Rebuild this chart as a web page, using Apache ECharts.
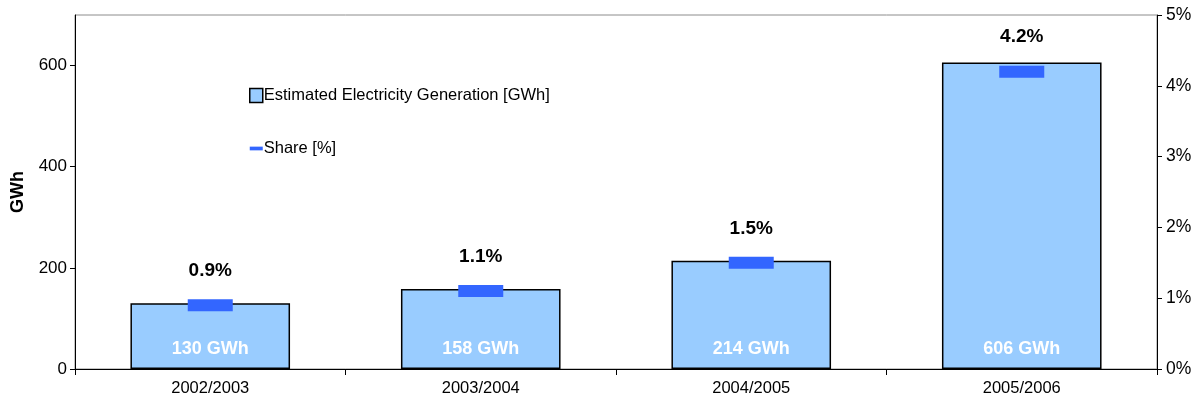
<!DOCTYPE html>
<html>
<head>
<meta charset="utf-8">
<script src="https://cdn.jsdelivr.net/npm/echarts@6/dist/echarts.min.js"></script>
<style>html,body{margin:0;padding:0;background:#fff}#c{width:1198px;height:410px}</style>
</head>
<body>
<div id="c"></div>
<script>
const categories = ['2002/2003', '2003/2004', '2004/2005', '2005/2006'];
const generationGWh = [130, 158, 214, 606];
const sharePct = [0.9, 1.1, 1.5, 4.2];
const leftTicks = [0, 200, 400, 600];
const rightTicks = [0, 1, 2, 3, 4, 5];

const FONT = 'Liberation Sans';
const chart = echarts.init(document.getElementById('c'), null, {renderer: 'canvas'});
chart.setOption({
  animation: false,
  textStyle: {fontFamily: FONT},
  grid: {left: 75, right: 41, top: 15, bottom: 41, show: true, borderColor: '#8c8c8c', borderWidth: 1},
  legend: {
    orient: 'vertical', left: 244, top: 82, itemGap: 36, itemWidth: 13, itemHeight: 14,
    textStyle: {fontFamily: FONT, fontSize: 16.5, color: '#000', padding: [0, 0, 0, -4]},
    data: [
      {name: 'Estimated Electricity Generation [GWh]', icon: 'rect', itemStyle: {color: '#99CCFF', borderColor: '#000', borderWidth: 1.5}},
      {name: 'Share [%]', icon: 'path://M0,0 L14,0 L14,4 L0,4 Z', itemStyle: {color: '#3366FF'}}
    ]
  },
  xAxis: {
    type: 'category', data: categories, boundaryGap: true,
    axisLine: {lineStyle: {color: '#000', width: 1}},
    axisTick: {show: true, alignWithLabel: false, length: 6, lineStyle: {color: '#000'}},
    axisLabel: {fontFamily: FONT, fontSize: 16.5, color: '#000', margin: 11}
  },
  yAxis: [
    {
      type: 'value', min: 0, max: 700, interval: 100,
      name: 'GWh', nameLocation: 'middle', nameGap: 48, nameRotate: 90,
      nameTextStyle: {fontFamily: FONT, fontSize: 18, fontWeight: 'bold', color: '#000'},
      axisLine: {show: true, lineStyle: {color: '#000'}},
      axisTick: {show: true, length: 5, lineStyle: {color: '#000'}, customValues: leftTicks},
      axisLabel: {fontFamily: FONT, fontSize: 17, color: '#000', margin: 8, customValues: leftTicks},
      splitLine: {show: false}
    },
    {
      type: 'value', min: 0, max: 5, interval: 1, position: 'right',
      axisLine: {show: true, lineStyle: {color: '#000'}},
      axisTick: {show: true, length: 5, lineStyle: {color: '#000'}, customValues: rightTicks},
      axisLabel: {fontFamily: FONT, fontSize: 17.5, color: '#000', margin: 9, formatter: v => v + '%', customValues: rightTicks},
      splitLine: {show: false}
    }
  ],
  series: [
    {
      name: 'Estimated Electricity Generation [GWh]', type: 'bar', yAxisIndex: 0,
      data: generationGWh, barWidth: '59%',
      itemStyle: {color: '#99CCFF', borderColor: '#000', borderWidth: 1.5},
      label: {show: true, position: 'insideBottom', distance: 11, formatter: p => p.value + ' GWh',
        fontFamily: FONT, fontSize: 18, fontWeight: 'bold', color: '#fff'}
    },
    {
      name: 'Share [%]', type: 'scatter', yAxisIndex: 1,
      data: sharePct, symbol: 'rect', symbolSize: [45, 12],
      itemStyle: {color: '#3366FF', opacity: 1},
      label: {show: true, position: 'top', distance: 19, formatter: p => p.value.toFixed(1) + '%',
        fontFamily: FONT, fontSize: 19, fontWeight: 'bold', color: '#000'},
      z: 5
    }
  ]
});
</script>
</body>
</html>
